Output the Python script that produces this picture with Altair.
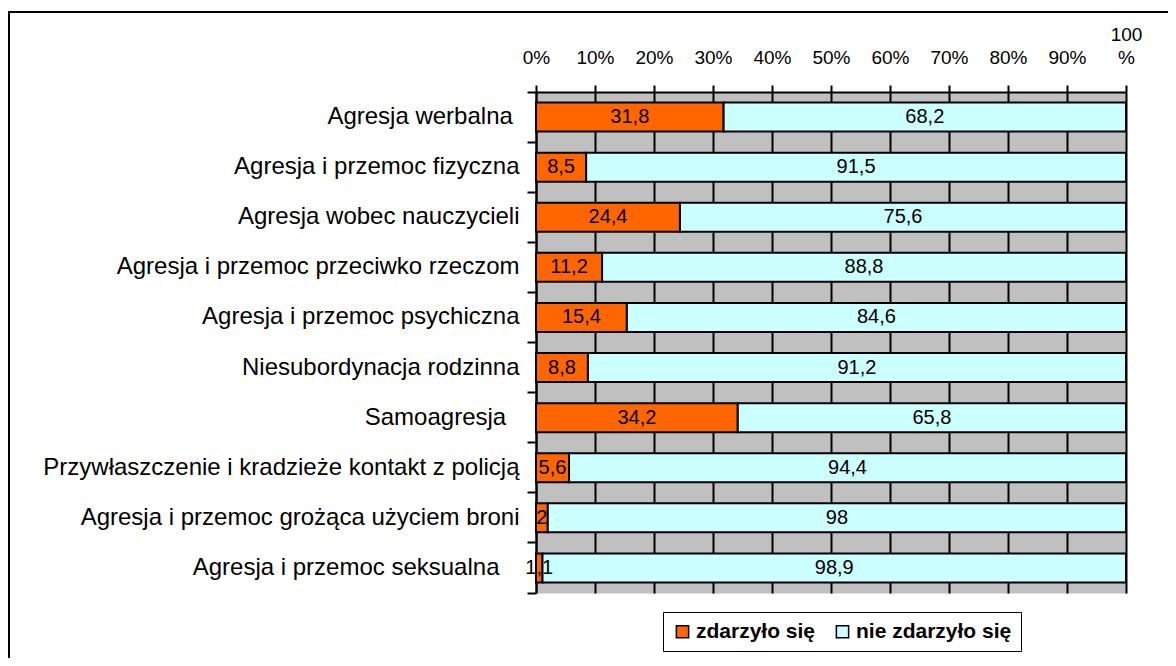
import altair as alt
import pandas as pd

NB = "\u00a0"
ZW = "\u200b"
categories = [
    "Agresja werbalna" + NB + ZW,
    "Agresja i przemoc fizyczna",
    "Agresja wobec nauczycieli",
    "Agresja i przemoc przeciwko rzeczom",
    "Agresja i przemoc psychiczna",
    "Niesubordynacja rodzinna",
    "Samoagresja" + NB * 2 + ZW,
    "Przywłaszczenie i kradzieże kontakt z policją",
    "Agresja i przemoc grożąca użyciem broni",
    "Agresja i przemoc seksualna" + NB * 3 + ZW,
]
series = ["zdarzyło się", "nie zdarzyło się"]
happened = [31.8, 8.5, 24.4, 11.2, 15.4, 8.8, 34.2, 5.6, 2, 1.1]
not_happened = [68.2, 91.5, 75.6, 88.8, 84.6, 91.2, 65.8, 94.4, 98, 98.9]
x_ticks = [0, 10, 20, 30, 40, 50, 60, 70, 80, 90, 100]
colors = ["#FF6600", "#CCFFFF"]

rows = []
for i, c in enumerate(categories):
    rows.append({"cat": c, "series": series[0], "ord": 0, "value": happened[i]})
    rows.append({"cat": c, "series": series[1], "ord": 1, "value": not_happened[i]})
df = pd.DataFrame(rows)
df["label"] = df["value"].map(lambda v: f"{v:g}".replace(".", ","))

FONT = "Liberation Sans"
W, H = 590, 501

base = alt.Chart(df).transform_stack(
    stack="value", groupby=["cat"], as_=["x0", "x1"], sort=[alt.SortField("ord")]
).transform_calculate(mid="(datum.x0 + datum.x1) / 2")

xscale = alt.Scale(domain=[0, 100], nice=False)
yscale = alt.Scale(domain=categories, paddingInner=0, paddingOuter=0)

bars = base.mark_bar(size=29, stroke="black", strokeWidth=2).encode(
    x=alt.X(
        "x0:Q",
        scale=xscale,
        axis=alt.Axis(
            orient="top",
            values=x_ticks,
            labelExpr="datum.value == 100 ? ['100', '%'] : ['', datum.value + '%']",
            title=None,
            grid=True,
            gridColor="black",
            gridWidth=2,
            gridOpacity=1,
            domainColor="black",
            domainWidth=2,
            tickColor="black",
            tickWidth=2,
            tickSize=7,
            labelFlush=False,
            labelOverlap=False,
            labelFont=FONT,
            labelFontSize=19,
            labelColor="black",
            labelPadding=41,
            labelLineHeight=23,
        ),
    ),
    x2="x1:Q",
    y=alt.Y(
        "cat:N",
        scale=yscale,
        sort=categories,
        axis=alt.Axis(
            title=None,
            grid=False,
            bandPosition=1,
            tickExtra=True,
            tickSize=9,
            tickColor="black",
            tickWidth=2,
            domainColor="black",
            domainWidth=2,
            labelFont=FONT,
            labelFontSize=24,
            labelColor="black",
            labelPadding=8,
            labelLimit=800,
        ),
    ),
    color=alt.Color(
        "series:N",
        scale=alt.Scale(domain=series, range=colors),
        legend=alt.Legend(
            title=None,
            orient="none",
            legendX=127,
            legendY=520,
            direction="horizontal",
            strokeColor="black",
            fillColor="white",
            padding=9,
            symbolType="square",
            symbolSize=150,
            symbolStrokeColor="black",
            symbolStrokeWidth=1.5,
            symbolOpacity=1,
            labelFont=FONT,
            labelFontSize=21,
            labelFontWeight="bold",
            labelColor="black",
            labelOffset=3,
            columnPadding=16,
        ),
    ),
)

texts = base.mark_text(font=FONT, fontSize=20, color="black").encode(
    x=alt.X("mid:Q", scale=xscale),
    y=alt.Y("cat:N", scale=yscale, sort=categories),
    text="label:N",
)

frame_df = pd.DataFrame({"k": [0]})
frame_top = alt.Chart(frame_df).mark_rule(color="black", strokeWidth=2).encode(
    x=alt.value(-527), x2=alt.value(700), y=alt.value(-80)
)
frame_left = alt.Chart(frame_df).mark_rule(color="black", strokeWidth=2).encode(
    x=alt.value(-527), y=alt.value(-81), y2=alt.value(600)
)

chart = alt.layer(bars, texts, frame_top, frame_left).properties(
    width=W,
    height=H,
    autosize=alt.AutoSizeParams(type="none"),
    padding={"left": 528, "top": 84, "right": 42, "bottom": 65},
    background="white",
).configure_view(fill="#C0C0C0", stroke="transparent")

chart.save("out.html", embed_options={"renderer": "svg", "actions": False})
